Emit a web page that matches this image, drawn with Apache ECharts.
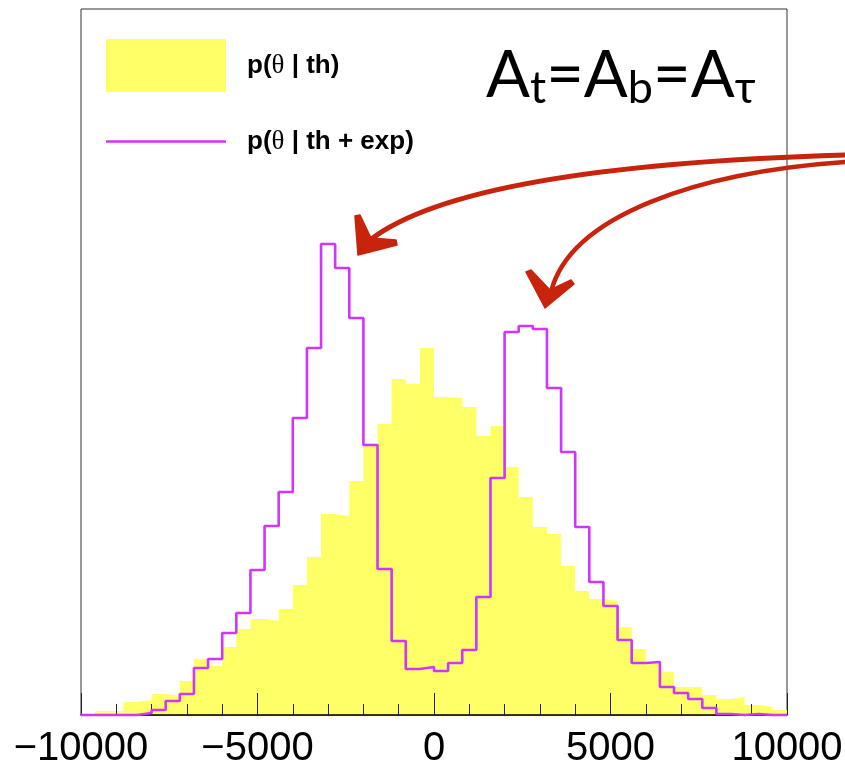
<!DOCTYPE html>
<html>
<head>
<meta charset="utf-8">
<script src="https://cdn.jsdelivr.net/npm/echarts@6/dist/echarts.min.js"></script>
<style>
  html, body { margin: 0; padding: 0; background: #fff; }
  #chart { width: 845px; height: 768px; }
</style>
</head>
<body>
<div id="chart"></div>
<script>
// Histogram binning: 50 bins of width 400 from -10000 to 10000
const binStart = -10000;
const binWidth = 400;

// x-axis tick labels (major ticks)
const xTicks = [-10000, -5000, 0, 5000, 10000];

// Series names as shown in the legend
const nameTh = 'p(θ | th)';
const nameExp = 'p(θ | th + exp)';

// Bin contents (arbitrary units), one value per bin
const thValues = [
  1, 4, 4, 13, 15, 21, 19, 34, 56, 49,
  68, 86, 96, 94, 106, 130, 158, 201, 199, 234,
  269, 291, 336, 331, 367, 318, 317, 308, 279, 289,
  248, 218, 188, 181, 149, 124, 116, 114, 88, 66,
  52, 43, 28, 28, 20, 16, 18, 10, 8, 5
];
const expValues = [
  0, 0, 0, 0, 2, 5, 14, 21, 47, 56,
  82, 102, 145, 189, 223, 297, 367, 471, 447, 397,
  270, 146, 74, 46, 48, 44, 52, 65, 118, 237,
  383, 389, 386, 327, 263, 188, 133, 109, 75, 52,
  53, 28, 22, 16, 7, 1, 0, 1, 0, 0
];

const yMax = 706;

// Build step points: each bin's left edge carries its value, plus the closing right edge
function stepPoints(values) {
  const pts = values.map((v, i) => [binStart + i * binWidth, v]);
  pts.push([binStart + values.length * binWidth, values[values.length - 1]]);
  return pts;
}

function fmtTick(v) {
  return v < 0 ? '\u2212' + Math.abs(v) : String(v);
}

function legendLabel(name) {
  const parts = name.split('θ');
  return '{b|' + parts[0] + '}{t|θ}{b|' + parts[1] + '}';
}

const chart = echarts.init(document.getElementById('chart'), null, { renderer: 'canvas' });

const RED = '#c8230c';
const YELLOW = '#ffff66';
const MAGENTA = '#cf35ff';

chart.setOption({
  animation: false,
  backgroundColor: '#ffffff',
  grid: {
    left: 81, right: 58, top: 9, bottom: 53,
    show: true,
    borderColor: '#333333',
    borderWidth: 1,
    backgroundColor: 'transparent',
    outerBoundsMode: 'none'
  },
  legend: {
    orient: 'vertical',
    left: 106,
    top: 39,
    padding: 0,
    itemWidth: 120,
    itemHeight: 53,
    itemGap: 36,
    selectedMode: false,
    symbolKeepAspect: true,
    data: [
      { name: nameTh, icon: 'rect' },
      // thin bar icon: keeps its aspect, so it is drawn as a 120px wide line
      { name: nameExp, icon: 'path://M0 0H100V2H0Z' }
    ],
    formatter: legendLabel,
    textStyle: {
      color: '#000',
      fontSize: 26,
      fontWeight: 'bold',
      fontFamily: 'Liberation Sans',
      padding: [0, 0, 0, 16],
      rich: {
        b: { fontFamily: 'Liberation Sans', fontWeight: 'bold', fontSize: 26, color: '#000' },
        t: { fontFamily: 'Liberation Serif', fontWeight: 'normal', fontSize: 27, color: '#000' }
      }
    }
  },
  xAxis: {
    type: 'value',
    min: xTicks[0],
    max: xTicks[xTicks.length - 1],
    interval: xTicks[1] - xTicks[0],
    z: 5,
    axisLine: { show: true, onZero: false, lineStyle: { color: '#000', width: 1.5 } },
    axisTick: { show: true, inside: true, length: 22, lineStyle: { color: '#222', width: 1 } },
    minorTick: { show: true, splitNumber: 5, length: 11, lineStyle: { color: '#222', width: 1 } },
    splitLine: { show: false },
    axisLabel: {
      show: true,
      margin: 14,
      fontSize: 40,
      fontFamily: 'Liberation Sans',
      color: '#000',
      showMinLabel: true,
      showMaxLabel: true,
      formatter: fmtTick
    }
  },
  yAxis: {
    type: 'value',
    min: 0,
    max: yMax,
    axisLine: { show: false },
    axisTick: { show: false },
    axisLabel: { show: false },
    splitLine: { show: false }
  },
  series: [
    {
      name: nameTh,
      type: 'line',
      step: 'end',
      data: stepPoints(thValues),
      symbol: 'none',
      showSymbol: false,
      z: 2,
      color: YELLOW,
      itemStyle: { color: YELLOW },
      lineStyle: { width: 0, color: YELLOW },
      areaStyle: { color: YELLOW, opacity: 1 }
    },
    {
      name: nameExp,
      type: 'line',
      step: 'end',
      data: stepPoints(expValues),
      symbol: 'none',
      showSymbol: false,
      clip: false,
      z: 10,
      color: MAGENTA,
      itemStyle: { color: MAGENTA },
      lineStyle: { width: 2.6, color: MAGENTA }
    }
  ],
  graphic: [
    {
      type: 'text',
      left: 486,
      top: 44,
      z: 20,
      style: {
        text: '{a|A}{s|t}{a|=A}{s|b}{a|=A}{s|τ}',
        fill: '#000',
        rich: {
          a: { fontFamily: 'Lato', fontSize: 65, lineHeight: 65, verticalAlign: 'bottom', padding: [0, 0, 2, 0], fill: '#000' },
          s: { fontFamily: 'Lato', fontSize: 45, lineHeight: 45, verticalAlign: 'bottom', fill: '#000' }
        }
      }
    },
    // Upper arrow: shaft and head
    {
      type: 'bezierCurve',
      z: 30,
      shape: { x1: 845, y1: 155, cpx1: 640, cpy1: 161, cpx2: 445, cpy2: 182, x2: 370, y2: 240 },
      style: { stroke: RED, lineWidth: 5, fill: null, lineCap: 'round' }
    },
    {
      type: 'polygon',
      z: 30,
      shape: { points: [[358, 255], [355, 216], [360, 215], [371, 238], [396, 240], [397, 245]] },
      style: { fill: RED, stroke: RED, lineWidth: 1.5, lineJoin: 'round' }
    },
    // Lower arrow: shaft and head
    {
      type: 'bezierCurve',
      z: 30,
      shape: { x1: 845, y1: 162, cpx1: 700, cpy1: 172, cpx2: 570, cpy2: 215, x2: 551, y2: 292 },
      style: { stroke: RED, lineWidth: 4.5, fill: null, lineCap: 'round' }
    },
    {
      type: 'polygon',
      z: 30,
      shape: { points: [[545, 308], [526, 272], [531, 270], [550, 290], [571, 280], [574, 284]] },
      style: { fill: RED, stroke: RED, lineWidth: 1.5, lineJoin: 'round' }
    }
  ]
});
</script>
</body>
</html>
